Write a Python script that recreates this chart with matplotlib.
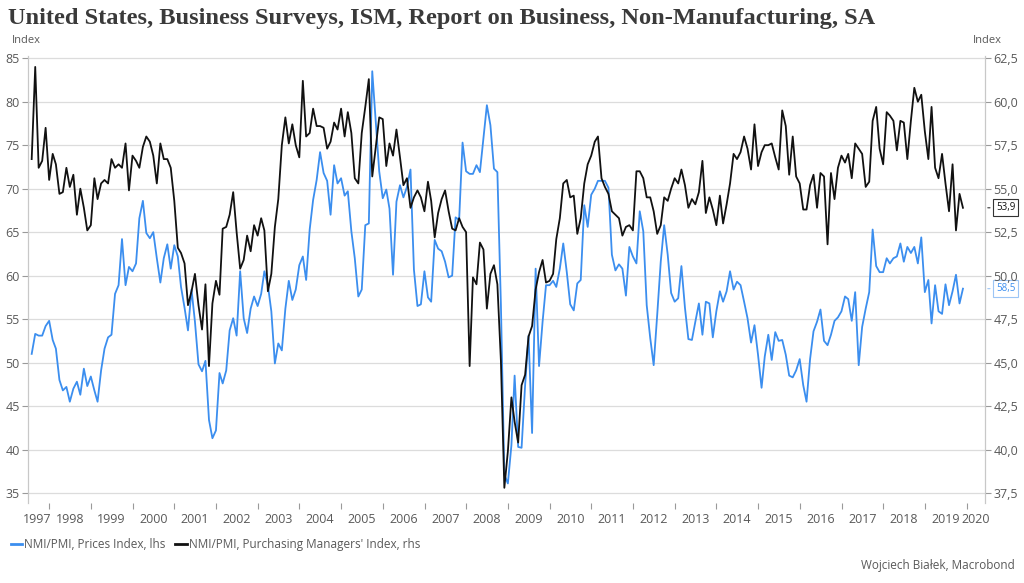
import matplotlib
matplotlib.use("Agg")
import matplotlib.pyplot as plt
from matplotlib.lines import Line2D
import pandas as pd

# ---------------- data ----------------
start_month = "1997-07"
prices_index = [
    51.0, 53.3, 53.1, 53.1, 54.2, 54.8, 52.6, 51.6, 48.0, 46.8, 47.2, 45.5,
    47.0, 47.8, 46.3, 49.3, 47.3, 48.4, 46.8, 45.5, 49.1, 51.6, 52.9, 53.2,
    57.9, 58.9, 64.2, 58.9, 61.0, 60.5, 61.4, 66.6, 68.6, 64.9, 64.3, 65.0,
    62.0, 59.2, 62.0, 63.6, 60.8, 63.5, 62.2, 58.7, 56.3, 53.7, 58.4, 54.7,
    49.8, 49.0, 50.2, 43.4, 41.3, 42.2, 48.8, 47.6, 49.1, 53.7, 55.1, 53.1,
    60.5, 55.1, 53.4, 56.2, 57.6, 56.5, 57.9, 60.5, 58.9, 55.9, 49.9, 52.2,
    51.4, 56.2, 59.4, 57.2, 58.4, 61.2, 62.2, 59.5, 65.3, 68.7, 71.0, 74.2,
    71.8, 70.9, 67.0, 72.7, 70.6, 71.2, 69.2, 69.7, 65.1, 62.0, 57.6, 58.4,
    65.8, 66.0, 83.5, 77.7, 72.0, 68.9, 69.9, 67.7, 60.1, 68.5, 70.4, 69.0,
    70.2, 72.2, 60.7, 56.5, 56.7, 60.5, 57.5, 57.0, 64.1, 63.1, 62.8, 61.6,
    59.8, 60.0, 66.7, 66.4, 75.3, 72.0, 71.7, 71.7, 72.7, 71.9, 75.8, 79.6,
    77.3, 72.3, 71.9, 56.6, 37.1, 36.1, 40.5, 48.5, 40.3, 40.2, 47.4, 53.1,
    41.9, 60.8, 49.6, 54.7, 58.9, 58.9, 59.4, 58.7, 60.8, 63.7, 60.4, 56.7,
    56.0, 59.1, 59.5, 68.1, 65.6, 69.3, 70.0, 70.9, 70.9, 70.9, 70.1, 62.4,
    60.6, 61.3, 60.8, 57.7, 63.3, 62.2, 61.4, 67.4, 65.1, 56.6, 52.8, 49.7,
    55.5, 61.6, 65.8, 62.4, 58.0, 57.0, 57.4, 61.1, 56.3, 52.7, 52.6, 54.7,
    56.8, 53.2, 57.0, 56.8, 52.9, 55.9, 58.2, 57.0, 58.2, 60.5, 58.4, 59.3,
    58.9, 57.0, 55.1, 52.3, 54.3, 50.9, 47.1, 50.7, 53.2, 50.3, 53.5, 52.5,
    52.6, 50.9, 48.5, 48.3, 49.1, 50.4, 47.4, 45.5, 50.4, 53.6, 54.7, 56.1,
    52.5, 52.0, 53.2, 54.8, 55.2, 55.9, 57.6, 57.3, 54.8, 58.1, 49.7, 54.1,
    56.2, 58.1, 65.3, 61.1, 60.4, 60.4, 62.0, 61.4, 62.0, 62.2, 63.7, 61.6,
    63.3, 62.6, 63.3, 61.4, 64.4, 58.1, 59.5, 54.5, 58.9, 55.9, 55.6, 59.0,
    56.6, 58.2, 60.1, 56.8, 58.5,
]
pmi_index = [
    56.7, 62.0, 56.2, 56.6, 58.5, 55.5, 57.0, 56.4, 54.7, 54.8, 56.2, 55.1,
    55.8, 53.5, 55.0, 53.9, 52.6, 52.9, 55.6, 54.4, 55.3, 55.5, 55.3, 56.7,
    56.2, 56.4, 56.2, 57.6, 54.9, 56.9, 56.6, 56.2, 57.4, 58.0, 57.7, 56.9,
    55.3, 57.6, 56.7, 56.7, 56.2, 54.3, 51.6, 51.3, 50.7, 48.3, 49.1, 50.1,
    48.3, 46.9, 49.5, 44.8, 48.4, 49.7, 48.9, 52.7, 52.8, 53.5, 54.8, 52.5,
    50.4, 50.9, 52.3, 51.4, 52.9, 52.3, 53.3, 52.6, 49.1, 50.1, 52.8, 54.4,
    57.5, 59.1, 57.6, 58.7, 57.5, 56.8, 61.2, 58.0, 58.2, 59.6, 58.6, 58.6,
    58.5, 57.3, 57.7, 58.8, 58.4, 59.6, 58.0, 59.4, 58.2, 55.6, 55.3, 58.2,
    59.7, 61.3, 55.7, 57.4, 59.1, 59.0, 56.3, 57.6, 56.9, 58.4, 56.8, 55.2,
    55.6, 53.9, 54.5, 54.9, 54.5, 53.7, 55.4, 54.3, 52.2, 53.6, 54.4, 54.9,
    53.7, 52.7, 52.6, 53.3, 52.8, 52.5, 44.8, 49.9, 49.5, 51.9, 51.5, 48.1,
    50.1, 50.6, 49.5, 45.1, 37.8, 39.9, 43.0, 41.6, 40.4, 43.7, 44.3, 46.5,
    47.1, 49.2, 50.2, 50.9, 49.6, 49.7, 50.1, 52.1, 53.3, 55.3, 55.5, 54.5,
    54.6, 52.4, 53.3, 55.3, 56.4, 56.9, 57.7, 58.0, 55.6, 55.1, 54.7, 53.7,
    53.5, 53.3, 52.3, 52.8, 52.9, 52.6, 56.0, 56.0, 55.6, 54.5, 54.5, 53.7,
    52.4, 52.9, 54.5, 54.3, 55.0, 55.6, 55.3, 56.1, 55.2, 53.9, 54.4, 54.1,
    54.8, 56.6, 53.6, 54.5, 53.8, 52.9, 54.6, 53.0, 54.1, 55.3, 57.0, 56.7,
    57.1, 58.0, 57.3, 56.1, 58.7, 56.3, 57.1, 57.5, 57.5, 57.6, 56.8, 56.1,
    59.5, 58.6, 55.8, 58.0, 55.7, 55.3, 53.8, 53.8, 55.2, 55.8, 53.9, 55.9,
    55.7, 51.8, 55.9, 54.4, 56.2, 56.9, 56.5, 57.0, 55.6, 57.6, 57.3, 57.0,
    55.1, 55.4, 58.9, 59.7, 57.3, 56.4, 59.4, 59.2, 58.9, 57.2, 58.9, 58.8,
    56.7, 58.9, 60.8, 60.0, 60.4, 58.3, 56.7, 59.7, 56.2, 55.6, 57.0, 55.3,
    53.7, 56.4, 52.6, 54.7, 53.9,
]
left_ticks = [35, 40, 45, 50, 55, 60, 65, 70, 75, 80, 85]
right_ticks = [37.5, 40.0, 42.5, 45.0, 47.5, 50.0, 52.5, 55.0, 57.5, 60.0, 62.5]
years = list(range(1997, 2021))

title = "United States, Business Surveys, ISM, Report on Business, Non-Manufacturing, SA"
label_prices = "NMI/PMI, Prices Index, lhs"
label_pmi = "NMI/PMI, Purchasing Managers' Index, rhs"
source = "Wojciech Białek, Macrobond"

# ---------------- style ----------------
BLUE = "#3b8eef"
BLACK = "#111111"
GRID = "#dcdcdc"
TXT = "#595959"
plt.rcParams["font.family"] = ["Open Sans", "DejaVu Sans"]

n = len(prices_index)
dates = pd.date_range(start=start_month, periods=n, freq="MS") + pd.offsets.MonthEnd(0)

fig = plt.figure(figsize=(10.24, 5.83), dpi=100)
ax = fig.add_axes([0.0276, 0.1372, 0.9343, 0.7668])
ax2 = ax.twinx()

ax.plot(dates, prices_index, color=BLUE, lw=1.3, solid_joinstyle="round")
ax2.plot(dates, pmi_index, color=BLACK, lw=1.3, solid_joinstyle="round")

ylo, yhi = 33.85, 85.26
ax.set_ylim(ylo, yhi)
ax2.set_ylim(ylo / 2 + 20, yhi / 2 + 20)
ax.set_xlim(pd.Timestamp("1997-07-01"), pd.Timestamp("2020-06-10"))

ax.set_yticks(left_ticks)
ax.set_yticklabels([f"{v:d}" for v in left_ticks])
ax2.set_yticks(right_ticks)
ax2.set_yticklabels([f"{v:.1f}".replace(".", ",") for v in right_ticks])

ax.yaxis.grid(True, color=GRID, lw=0.9)
ax.set_axisbelow(True)

# x ticks at year boundaries, labels centred in each visible year span
ax.set_xticks([pd.Timestamp(f"{y}-01-01") for y in years[1:]])
ax.set_xticklabels([])
label_pos = ([pd.Timestamp("1997-09-20")]
             + [pd.Timestamp(f"{y}-07-01") for y in years[1:-1]]
             + [pd.Timestamp("2020-03-20")])
ax.set_xticks(label_pos, minor=True)
ax.set_xticklabels([str(y) for y in years], minor=True)

ax.tick_params(axis="x", which="major", length=4, color="#9a9a9a", width=0.8, direction="out")
ax.tick_params(axis="x", which="minor", length=0, labelsize=9, labelcolor=TXT, pad=7)
ax.tick_params(axis="y", length=4, color="#9a9a9a", width=0.8, labelsize=9, labelcolor=TXT, pad=2)
ax2.tick_params(axis="y", length=4, color="#9a9a9a", width=0.8, labelsize=9, labelcolor=TXT, pad=2)

for a in (ax, ax2):
    a.spines["top"].set_visible(False)
    a.spines["bottom"].set_visible(False)
    a.spines["left"].set_color("#c8c8c8")
    a.spines["right"].set_color("#c8c8c8")
    a.spines["left"].set_linewidth(0.8)
    a.spines["right"].set_linewidth(0.8)

# title and axis unit labels
fig.text(0.008, 0.968, title, fontsize=17.6, fontweight="bold",
         family=["Liberation Serif", "DejaVu Serif"], color="#3a3a3a", va="center", ha="left")
fig.text(0.012, 0.931, "Index", fontsize=8, color=TXT, va="center", ha="left")
fig.text(0.978, 0.931, "Index", fontsize=8, color=TXT, va="center", ha="right")

# end-value callouts
def callout(axis, value, text, color, edge):
    axis.annotate(text, xy=(1.0, value), xycoords=("axes fraction", "data"),
                  xytext=(8, 0), textcoords="offset points",
                  fontsize=7, color=color, va="center", ha="left",
                  bbox=dict(boxstyle="square,pad=0.3", fc="white", ec=edge, lw=0.8),
                  arrowprops=dict(arrowstyle="-", color=edge, lw=0.8))

callout(ax2, pmi_index[-1], f"{pmi_index[-1]:.1f}".replace(".", ","), BLACK, "#333333")
callout(ax, prices_index[-1], f"{prices_index[-1]:.1f}".replace(".", ","), BLUE, "#9cc5f5")

# legend
handles = [Line2D([0], [0], color=BLUE, lw=2), Line2D([0], [0], color=BLACK, lw=2)]
fig.legend(handles, [label_prices, label_pmi], loc="center left",
           bbox_to_anchor=(0.0, 0.066), ncol=2, frameon=False, fontsize=8.5,
           handlelength=1.0, handletextpad=0.15, columnspacing=0.8, labelcolor=TXT)

fig.text(0.991, 0.03, source, fontsize=8.5, color=TXT, ha="right", va="center")

fig.savefig("out.png", dpi=100)
